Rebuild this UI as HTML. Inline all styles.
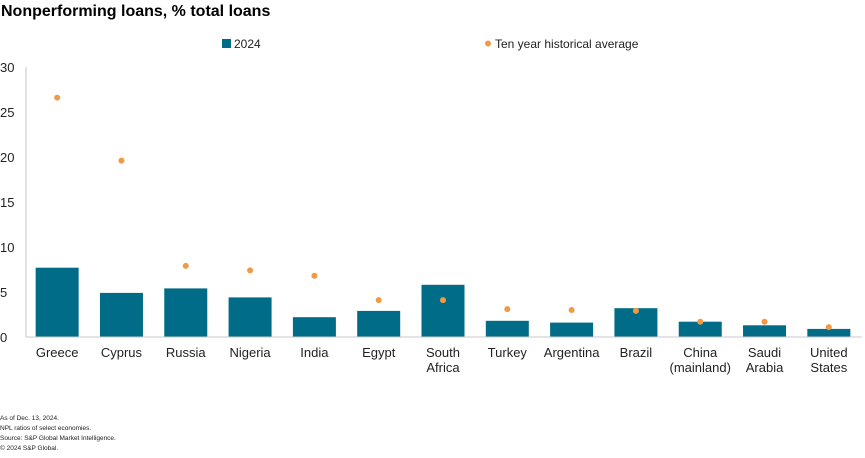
<!DOCTYPE html>
<html><head><meta charset="utf-8"><style>
body{margin:0;background:#fff;font-family:"Liberation Sans",Arial,sans-serif;}
svg text{font-family:"Liberation Sans",Arial,sans-serif;}
</style></head><body>
<svg id="c" width="865" height="453" xmlns="http://www.w3.org/2000/svg">
<text x="1" y="16" font-size="16" font-weight="bold" fill="#000">Nonperforming loans, % total loans</text>
<g>
<rect x="222" y="39" width="9" height="9" fill="#006c87"/>
<text x="234" y="48" font-size="12" fill="#222">2024</text>
<circle cx="488" cy="43.5" r="3" fill="#f29a43"/>
<text x="495" y="48" font-size="12" fill="#222">Ten year historical average</text>
</g>
<g id="plot"></g>
<g font-size="6.5" fill="#222">
<text x="0" y="420">As of Dec. 13, 2024.</text>
<text x="0" y="430">NPL ratios of select economies.</text>
<text x="0" y="440">Source: S&amp;P Global Market Intelligence.</text>
<text x="0" y="450">© 2024 S&amp;P Global.</text>
</g>
</svg>
<script>
const categories = [["Greece"],["Cyprus"],["Russia"],["Nigeria"],["India"],["Egypt"],["South","Africa"],["Turkey"],["Argentina"],["Brazil"],["China","(mainland)"],["Saudi","Arabia"],["United","States"]];
const values2024 = [7.7,4.9,5.4,4.4,2.2,2.9,5.8,1.8,1.6,3.2,1.7,1.3,0.9];
const tenYearAvg = [26.6,19.6,7.9,7.4,6.8,4.1,4.1,3.1,3.0,2.9,1.7,1.7,1.1];
const yTicks = [0,5,10,15,20,25,30];

const NS="http://www.w3.org/2000/svg";
const g=document.getElementById('plot');
const x0=26, x1=862, yTop=67, yBot=337, yMax=30;
const y=v=>yBot-(v/yMax)*(yBot-yTop);
const step=(x1-x0)/categories.length;
const xc=i=>x0+step*(i+0.5)-1;
const barW=43;
function mk(t,a){const e=document.createElementNS(NS,t);for(const k in a)e.setAttribute(k,a[k]);g.appendChild(e);return e;}
yTicks.forEach(t=>{
  const e=mk('text',{x:0,y:y(t)+5,'font-size':13,fill:'#222'});
  
  
  e.textContent=t;
});
const ax=mk('line',{x1:x0,y1:yTop,x2:x0,y2:yBot,stroke:'#c8c8c8','stroke-width':1});


values2024.forEach((v,i)=>{
  const r=mk('rect',{x:xc(i)-barW/2,y:y(v),width:barW,height:yBot-y(v),fill:'#006c87'});
  
  
});
const bx=mk('line',{x1:x0,y1:yBot,x2:x1,y2:yBot,stroke:'#c8c8c8','stroke-width':1});


tenYearAvg.forEach((v,i)=>{
  const c=mk('circle',{cx:xc(i),cy:y(v),r:3,fill:'#f29a43'});
  
  
});
categories.forEach((lines,i)=>{
  lines.forEach((l,j)=>{
    const t=mk('text',{x:xc(i),y:357+j*15,'font-size':13,fill:'#222','text-anchor':'middle'});
    
    
    t.textContent=l;
  });
});
</script>
</body></html>
